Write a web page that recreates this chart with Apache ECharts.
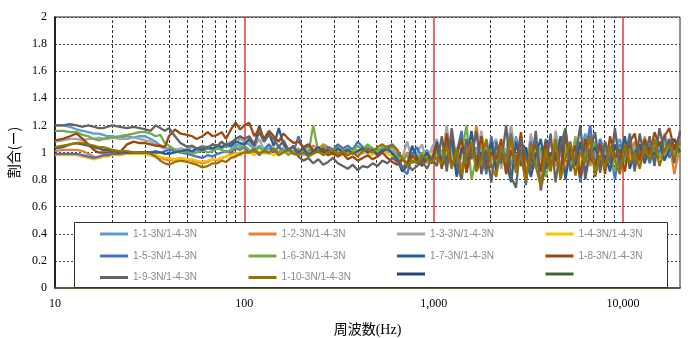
<!DOCTYPE html>
<html><head><meta charset="utf-8">
<script src="https://cdn.jsdelivr.net/npm/echarts@6/dist/echarts.min.js"></script>
<style>html,body{margin:0;padding:0;background:#fff}#c{width:688px;height:338px}</style>
</head><body><div id="c"></div>
<script>
// frequencies (Hz)
const freqs = [10,11,12,13,14,15,16,17,18,19,20,22,24,26,28,30,32,34,36,38,40,43,46,50,53,56,60,64,68,72,76,80,85,90,95,100,
106,113,120,127,135,143,152,161,171,182,193,205,218,231,246,261,277,294,312,332,352,374,397,422,448,476,505,536,570,605,
642,682,725,770,817,868,922,979,1040,1104,1173,1245,1323,1405,1492,1584,1682,1787,1898,2015,2140,2273,2414,2564,2722,2891,3071,3261,3463,3678,
3906,4148,4405,4679,4969,5277,5604,5951,6320,6712,7128,7570,8040,8538,9068,9630,10227,10861,11534,12249,13009,13815,14672,15582,16548,17574,18663,20000];

const s1_1 = [1.2,1.2,1.19,1.17,1.16,1.15,1.14,1.14,1.13,1.12,1.12,1.11,1.12,1.11,1.12,1.12,1.1,1.08,1.05,1.04,1.02,1.02,1.0,1.01,1.0,1.02,1.01,1.03,1.02,1.04,1.03,1.05,1.04,1.06,1.05,1.07,
1.06,1.02,1.05,1.0,1.03,1.01,1.04,1.0,1.02,0.99,1.01,0.99,1.02,1.0,1.03,1.01,0.99,1.02,1.0,1.03,1.01,1.03,1.0,1.02,1.04,1.01,1.03,1.0,1.02,1.04,
1.0,0.96,0.92,1.04,0.98,0.94,1.02,0.96,1.0,0.92,1.08,0.94,1.02,0.88,1.1,0.96,1.04,0.9,1.06,0.98,0.92,1.06,1.0,0.9,1.12,0.96,1.02,0.88,1.08,0.94,
1.04,0.96,0.9,1.1,0.98,1.06,0.92,1.02,1.14,0.96,1.0,0.94,1.06,0.98,1.02,1.1,0.94,1.0,1.06,0.98,1.04,0.98,1.1,1.02,0.96,1.06,1.0,1.1];
const s1_2 = [1.01,1.02,1.02,1.02,1.01,0.99,0.97,0.96,0.97,0.98,0.99,0.99,1.0,0.99,1.0,0.99,0.98,0.97,0.96,0.95,0.94,0.95,0.96,0.95,0.94,0.93,0.92,0.93,0.95,0.94,0.96,0.97,0.99,1.0,0.98,1.01,
1.0,1.02,0.99,1.01,1.0,1.02,0.98,1.03,1.0,1.01,1.03,1.0,1.02,1.05,1.03,1.06,1.04,1.02,1.05,1.03,1.0,1.03,1.01,1.04,1.02,1.0,1.03,1.01,1.05,1.02,
0.98,0.95,1.0,0.96,0.94,0.98,0.96,1.02,0.94,0.98,0.92,1.02,0.96,0.88,1.04,0.98,1.2,0.9,1.0,0.94,1.04,0.9,0.98,1.06,0.86,1.0,0.94,1.1,0.88,1.02,
0.94,1.08,0.9,1.0,0.86,1.06,0.96,1.0,1.1,0.9,1.02,0.94,1.08,0.98,1.0,0.9,1.04,0.96,1.08,0.92,1.0,1.06,0.94,1.02,0.98,1.08,0.84,1.04];
const s1_3 = [1.08,1.09,1.1,1.1,1.09,1.1,1.1,1.11,1.1,1.1,1.11,1.1,1.1,1.11,1.1,1.09,1.08,1.06,1.04,1.03,1.03,1.02,1.03,1.02,1.04,1.03,1.05,1.04,1.06,1.05,1.07,1.06,1.08,1.07,1.1,1.08,
1.08,1.04,1.1,1.02,1.06,1.03,1.0,1.04,1.01,0.99,1.0,0.98,1.01,0.99,1.02,1.0,0.98,1.01,0.99,1.0,0.98,1.0,1.02,0.99,1.01,1.0,0.98,1.02,1.0,1.03,
1.0,0.96,1.08,0.94,1.0,1.06,0.92,1.04,1.1,0.95,1.2,0.92,1.0,1.12,0.88,1.06,0.96,1.16,0.9,1.04,1.1,0.88,1.02,1.2,0.92,1.06,0.86,1.14,0.96,1.0,
1.06,0.9,1.16,0.98,1.04,0.88,1.12,1.02,0.92,1.18,0.96,1.1,1.02,0.9,1.14,1.0,0.94,1.08,1.02,0.96,1.12,1.0,1.08,0.96,1.14,1.04,1.1,1.02];
const s1_4 = [0.98,0.98,0.98,0.98,0.97,0.96,0.95,0.96,0.97,0.97,0.98,0.98,0.99,0.99,0.99,0.99,0.98,0.98,0.97,0.96,0.96,0.95,0.96,0.95,0.95,0.94,0.93,0.94,0.95,0.95,0.96,0.97,0.98,0.99,1.0,1.0,
1.0,0.98,1.01,0.99,1.0,0.98,1.0,1.01,0.99,1.0,0.99,1.0,0.98,1.0,1.01,0.99,1.0,0.98,1.0,0.99,0.98,1.0,0.99,1.01,1.0,0.98,1.01,1.0,0.99,0.97,
0.96,0.94,0.97,0.95,0.98,0.94,0.97,1.0,0.95,0.98,1.0,0.92,1.04,0.96,0.9,1.02,0.94,1.06,0.92,1.0,0.96,1.04,0.9,1.0,0.94,1.06,0.88,0.98,1.02,0.92,
1.0,0.94,1.04,0.9,1.0,0.96,1.06,0.92,0.98,1.02,0.94,1.0,0.96,1.04,0.92,1.0,0.98,1.06,0.94,1.02,0.98,1.04,0.96,1.06,1.0,1.02,0.98,1.04];
const s1_5 = [0.99,0.99,0.99,0.99,0.98,0.97,0.96,0.97,0.98,0.98,0.99,0.99,1.0,1.0,1.0,1.0,1.0,1.01,1.0,1.01,1.02,1.01,1.0,0.99,0.98,0.97,0.96,0.98,0.97,0.99,1.0,1.01,1.0,1.03,1.02,1.04,
1.0,1.03,0.98,1.02,1.06,1.0,1.04,1.01,1.03,1.0,1.12,1.02,1.05,1.0,1.03,1.01,1.04,1.02,1.06,1.03,1.05,1.02,1.08,1.04,1.01,1.03,1.0,1.02,1.04,1.06,
1.02,0.88,0.84,0.98,1.04,0.95,1.0,0.92,1.06,0.94,1.1,0.9,1.0,1.16,0.86,1.06,0.94,1.02,0.84,1.12,0.9,1.04,0.96,1.14,0.88,1.02,0.76,1.08,0.94,0.86,
1.1,0.92,1.02,0.88,1.16,0.94,1.06,0.78,1.0,1.2,0.88,1.1,0.94,1.04,0.8,1.06,0.96,1.14,0.9,1.02,1.08,0.92,1.04,1.0,1.12,0.96,1.06,1.02];
const s1_6 = [1.16,1.16,1.15,1.15,1.13,1.12,1.1,1.09,1.1,1.11,1.11,1.12,1.13,1.14,1.15,1.15,1.14,1.12,1.13,1.07,1.05,1.02,1.0,1.01,0.99,1.0,1.02,1.0,1.01,1.03,1.02,1.0,1.02,1.04,1.03,1.05,
1.02,1.0,1.04,1.01,0.99,1.03,1.0,1.02,0.98,1.01,1.0,1.03,0.99,1.2,1.0,1.05,1.01,1.02,1.03,1.0,1.03,1.01,1.05,1.02,1.06,1.03,1.01,1.04,1.02,1.0,
0.97,0.94,0.98,0.92,0.96,1.0,0.93,0.97,0.95,1.02,0.9,1.06,0.86,1.0,1.2,0.8,0.96,1.04,0.88,1.02,0.94,1.08,0.86,1.0,0.92,1.12,0.84,0.98,0.9,1.04,
0.82,0.96,1.06,0.88,1.02,0.92,1.1,0.86,1.0,0.94,1.08,0.9,1.02,0.96,0.86,1.04,0.92,1.1,0.96,1.0,0.94,1.06,1.0,0.96,1.08,1.0,1.04,0.98];
const s1_7 = [1.03,1.04,1.06,1.07,1.06,1.05,1.04,1.03,1.02,1.02,1.01,1.01,1.0,1.0,1.0,1.0,1.0,1.0,1.0,0.99,0.99,1.0,1.01,1.02,1.01,1.03,1.02,1.04,1.03,1.05,1.04,1.06,1.05,1.08,1.07,1.06,
1.1,1.05,1.2,1.08,1.14,1.05,1.18,1.06,1.02,1.04,1.0,1.03,0.98,1.01,1.04,1.0,1.02,0.99,1.03,1.0,1.02,0.99,1.01,1.03,1.0,1.02,0.98,1.01,1.03,0.99,
0.95,0.86,0.9,1.05,0.96,0.92,1.0,0.94,1.08,0.9,0.96,1.1,0.82,1.04,0.94,1.16,0.88,1.0,0.92,1.08,0.86,1.0,0.94,0.78,1.08,0.9,1.04,0.82,0.98,1.1,
0.88,1.0,0.94,1.12,0.8,1.04,0.9,1.08,0.86,0.98,1.04,0.92,0.98,0.86,1.06,0.94,1.12,0.88,1.0,1.06,0.92,1.04,0.98,1.08,0.94,1.02,1.1,1.0];
const s1_8 = [1.09,1.1,1.12,1.14,1.1,1.06,1.02,1.0,1.0,1.0,1.01,1.0,1.06,1.08,1.07,1.07,1.06,1.05,1.05,1.04,1.12,1.17,1.14,1.13,1.12,1.1,1.12,1.15,1.12,1.13,1.15,1.1,1.17,1.22,1.17,1.2,
1.22,1.12,1.18,1.1,1.16,1.12,1.08,1.14,1.1,1.07,1.08,1.04,1.06,1.02,1.0,1.03,0.98,1.0,0.97,0.99,0.95,0.97,0.94,0.96,0.98,0.95,0.97,1.0,0.96,0.93,
0.91,0.95,0.92,0.98,0.94,0.9,0.96,0.92,1.05,0.88,1.14,0.9,0.98,1.1,0.85,1.04,0.92,1.12,0.88,1.0,0.95,1.1,0.84,1.02,0.9,1.15,0.8,0.98,1.06,0.86,
1.08,0.9,1.0,0.84,1.12,0.94,1.05,0.82,1.1,0.96,0.9,1.06,0.84,1.12,0.96,1.02,0.86,1.08,1.14,0.94,1.1,0.98,1.15,1.05,1.12,1.18,1.02,1.14];
const s1_9 = [1.2,1.2,1.21,1.2,1.19,1.2,1.19,1.18,1.18,1.19,1.2,1.19,1.18,1.19,1.18,1.17,1.16,1.2,1.18,1.16,1.18,1.12,1.07,1.04,1.05,1.03,1.04,1.03,1.06,1.05,1.08,1.05,1.07,1.1,1.12,1.1,
1.12,1.06,1.15,1.08,1.13,1.1,1.04,1.09,1.02,1.05,0.97,0.94,0.96,0.92,0.95,0.91,0.93,0.96,0.92,0.9,0.88,0.91,0.87,0.9,0.89,0.92,0.9,0.94,0.92,0.96,
0.93,0.89,0.92,0.87,0.9,0.94,0.88,0.96,0.9,1.12,0.86,1.18,0.92,0.8,1.1,0.95,1.16,0.84,1.02,0.78,1.08,0.92,1.2,0.82,0.74,1.1,0.96,0.88,1.16,0.72,
0.92,1.14,0.78,1.05,1.18,0.86,0.96,1.2,0.8,1.02,1.15,0.85,1.08,0.92,1.18,0.88,1.0,1.1,0.86,1.14,0.95,1.12,0.9,1.18,1.0,1.1,0.92,1.16];
const s1_10 = [1.04,1.05,1.06,1.07,1.07,1.06,1.05,1.04,1.04,1.03,1.02,1.01,1.01,1.0,1.0,1.0,0.99,0.97,0.94,0.92,0.91,0.93,0.94,0.93,0.92,0.91,0.89,0.9,0.92,0.92,0.94,0.93,0.96,0.97,0.99,1.0,
1.0,1.02,0.99,1.01,1.0,1.03,0.98,1.0,1.02,0.99,0.98,1.0,0.97,0.99,1.01,0.98,1.0,1.02,0.99,1.01,0.98,1.0,0.97,1.01,1.03,1.0,1.04,1.06,1.03,1.05,
1.02,0.96,0.9,0.94,0.92,0.98,0.95,0.93,0.97,0.91,1.05,0.88,1.02,0.84,0.98,1.08,0.86,0.95,1.1,0.9,0.82,1.05,0.92,1.12,0.85,0.98,0.78,1.06,0.9,0.75,
1.02,0.86,1.1,0.8,0.96,1.08,0.83,1.0,0.92,1.12,0.82,0.98,0.88,1.05,0.94,0.84,1.06,0.92,1.0,0.88,1.04,0.95,1.1,0.9,1.02,1.06,0.96,1.08];
const blankFreqs = [10, 20000];
const blankValues = [0, 0];

const seriesNames = ['1-1-3N/1-4-3N','1-2-3N/1-4-3N','1-3-3N/1-4-3N','1-4-3N/1-4-3N',
  '1-5-3N/1-4-3N','1-6-3N/1-4-3N','1-7-3N/1-4-3N','1-8-3N/1-4-3N',
  '1-9-3N/1-4-3N','1-10-3N/1-4-3N','blank-1','blank-2'];
const blankNames = ['blank-1','blank-2'];
const xTickValues = [10, 100, 1000, 10000];
const xTickLabels = ['10', '100', '1,000', '10,000'];
const minorGridFreqs = [20,30,40,50,60,70,80,90,200,300,400,500,600,700,800,900,2000,3000,4000,5000,6000,7000,8000,9000];
const redGridFreqs = [100, 1000, 10000];
const xAxisName = '周波数(Hz)';
const yAxisName = '割合(ー)';

const seriesColors = ['#5B9BD5','#ED7D31','#A5A5A5','#FFC000','#4472C4','#70AD47','#255E91','#9E480E','#636363','#997300','#264478','#43682B'];
const valueArrays = [s1_1,s1_2,s1_3,s1_4,s1_5,s1_6,s1_7,s1_8,s1_9,s1_10];

const chart = echarts.init(document.getElementById('c'), null, {renderer:'canvas'});

const series = [{
  type:'line', name:'grid-lines', data:[[10,-1]], symbol:'none', silent:true, z:1,
  lineStyle:{opacity:0},
  markLine:{
    z:1, silent:true, symbol:['none','none'], label:{show:false}, animation:false,
    data: minorGridFreqs.map(f=>({xAxis:f, lineStyle:{color:'#333', width:1, type:[3,2]}}))
      .concat(redGridFreqs.map(f=>({xAxis:f, lineStyle:{color:'#E0383A', width:1.5, type:'solid'}})))
  }
}];
valueArrays.forEach((vals,i)=>{
  series.push({type:'line', name:seriesNames[i], data:freqs.map((f,j)=>[f, vals[j]]),
    symbol:'none', z:2, lineStyle:{width:2.3, color:seriesColors[i]}, itemStyle:{color:seriesColors[i]}});
});
blankNames.forEach((n,k)=>{
  series.push({type:'line', name:n, data:blankFreqs.map((f,j)=>[f, blankValues[j]]),
    symbol:'none', z:2, lineStyle:{width:2, color:seriesColors[10+k]}, itemStyle:{color:seriesColors[10+k]}});
});

const legendRowY = [234, 256, 277.5];
const legends = seriesNames.map((n,i)=>({
  data:[n], left: 100 + (i%4)*148.5, top: legendRowY[Math.floor(i/4)] - 5,
  padding:0, itemWidth:28, itemHeight:3, icon:'rect', itemGap:0,
  selectedMode:false, z:12,
  formatter: blankNames.includes(n) ? (()=> '') : '{name}',
  textStyle:{color:'#8a8a8a', fontSize:10, fontFamily:'Liberation Sans, Arial, sans-serif'}
}));

chart.setOption({
  animation:false,
  backgroundColor:'#fff',
  grid:{left:55, right:8, top:17, bottom:50, show:true, borderColor:'#222', borderWidth:1, outerBoundsMode:'none'},
  xAxis:{
    type:'log', logBase:10, min:10, max:20000,
    name:xAxisName, nameLocation:'middle', nameGap:35,
    nameTextStyle:{fontSize:14, color:'#000', fontFamily:'Liberation Serif, Noto Sans CJK JP, serif'},
    axisLine:{show:true, lineStyle:{color:'#000', width:1.5}},
    axisTick:{show:false}, splitLine:{show:false}, minorTick:{show:false},
    axisLabel:{fontSize:12, color:'#000', fontFamily:'Liberation Serif, serif', margin:10, showMaxLabel:false,
      formatter:v=>{const k=xTickValues.findIndex(t=>Math.abs(t-v)<1e-6*t); return k>=0?xTickLabels[k]:'';}}
  },
  yAxis:{
    type:'value', min:0, max:2, interval:0.2,
    name:yAxisName, nameLocation:'middle', nameGap:30, nameRotate:90,
    nameTextStyle:{fontSize:14, color:'#000', fontFamily:'Noto Sans CJK JP, sans-serif'},
    axisLine:{show:true, lineStyle:{color:'#000', width:1.5}},
    axisTick:{show:false},
    splitLine:{show:true, lineStyle:{color:'#444', width:1, type:[2,2]}},
    axisLabel:{fontSize:12, color:'#000', fontFamily:'Liberation Serif, serif', margin:8}
  },
  legend: legends,
  graphic:[{type:'rect', z:10, shape:{x:74.5, y:222.5, width:593, height:65},
    style:{fill:'#fff', stroke:'#333', lineWidth:1}}],
  series: series
});
</script></body></html>
